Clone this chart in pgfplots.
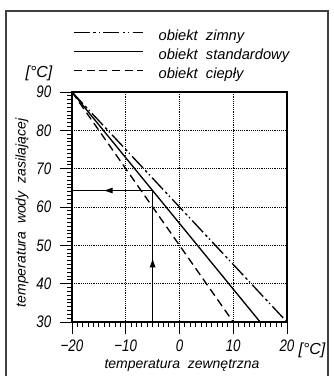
\documentclass[border=0pt]{standalone}
\usepackage{fontspec}
\setmainfont{Liberation Sans}
\newfontfamily\cad{Liberation Sans}[FakeStretch=0.8]
\usepackage{pgfplots}
\pgfplotsset{compat=1.18}
\usetikzlibrary{arrows.meta}
\begin{document}
\begin{tikzpicture}
\useasboundingbox (0pt,0pt) rectangle (250.5pt,282pt);
\draw[line width=1.1pt, black!75] (4.5pt,-5pt) -- (4.5pt,273.75pt) -- (246pt,273.75pt) -- (246pt,-5pt);
\begin{axis}[at={(54pt,40.5pt)}, anchor=south west, scale only axis,
  width=161.25pt, height=172.5pt,
  xmin=-20, xmax=20, ymin=30, ymax=90,
  xtick={-20,-10,...,20}, ytick={30,40,...,90},
  xticklabels={−20,−10,0,10,20},
  minor x tick num=9, minor y tick num=9,
  tick align=outside, xtick pos=bottom, ytick pos=left,
  major tick length=9pt, minor tick length=3.75pt,
  every tick/.style={black, line width=0.6pt},
  axis line style={line width=0.9pt},
  grid=major, major grid style={densely dotted, black, line width=0.6pt},
  tick label style={font=\cad\itshape\fontsize{12.5}{12.5}\selectfont},
  yticklabel style={xshift=-3pt},
  xticklabel style={yshift=-1pt},
  /pgf/number format/assume math mode=true,
  legend style={at={(axis description cs:0.005,1.2726)}, anchor=north west,
    draw=none, fill=none, inner sep=0pt, row sep=4.25pt, column sep=0pt,
    font=\itshape\fontsize{11}{11}\selectfont,
    nodes={inner sep=0pt, text height=8pt, text depth=2pt}},
  legend cell align=left,
  legend image code/.code={\draw[#1] (0pt,3pt) -- (52pt,3pt) (63pt,3pt);},
]
\addplot[black, line width=1pt, dash pattern=on 12pt off 2.5pt on 2pt off 2pt on 1pt off 2.5pt] coordinates {(-20,90) (20,30)};
\addlegendentry{obiekt\ \ zimny}
\addplot[black, line width=1pt] coordinates {(-20,90) (15,30)};
\addlegendentry{obiekt\ \ standardowy}
\addplot[black, line width=1pt, dash pattern=on 6pt off 3.5pt] coordinates {(-20,90) (10,30)};
\addlegendentry{obiekt\ \ ciepły}
\addplot[black, line width=0.7pt, -{Latex[length=7pt,width=4.5pt]}, forget plot] coordinates {(-5,30) (-5,46.7)};
\addplot[black, line width=0.7pt, forget plot] coordinates {(-5,45) (-5,64.3)};
\addplot[black, line width=0.7pt, -{Latex[length=7pt,width=4.5pt]}, forget plot] coordinates {(-5,64.3) (-14.2,64.3)};
\addplot[black, line width=0.7pt, forget plot] coordinates {(-13,64.3) (-20,64.3)};
\end{axis}
\node[font=\itshape\fontsize{10.5}{10.5}\selectfont, inner sep=0pt] at (136.5pt,8.25pt) {temperatura\ \ zewnętrzna};
\node[font=\itshape\fontsize{10.5}{10.5}\selectfont, inner sep=0pt, rotate=90] at (16.5pt,122.25pt) {temperatura\ \ wody\ \ zasilającej};
\node[font=\itshape\fontsize{12}{12}\selectfont, inner sep=0pt] at (29.25pt,227.25pt) {[°C]};
\node[font=\itshape\fontsize{12}{12}\selectfont, inner sep=0pt] at (234pt,19.5pt) {[°C]};
\end{tikzpicture}
\end{document}
